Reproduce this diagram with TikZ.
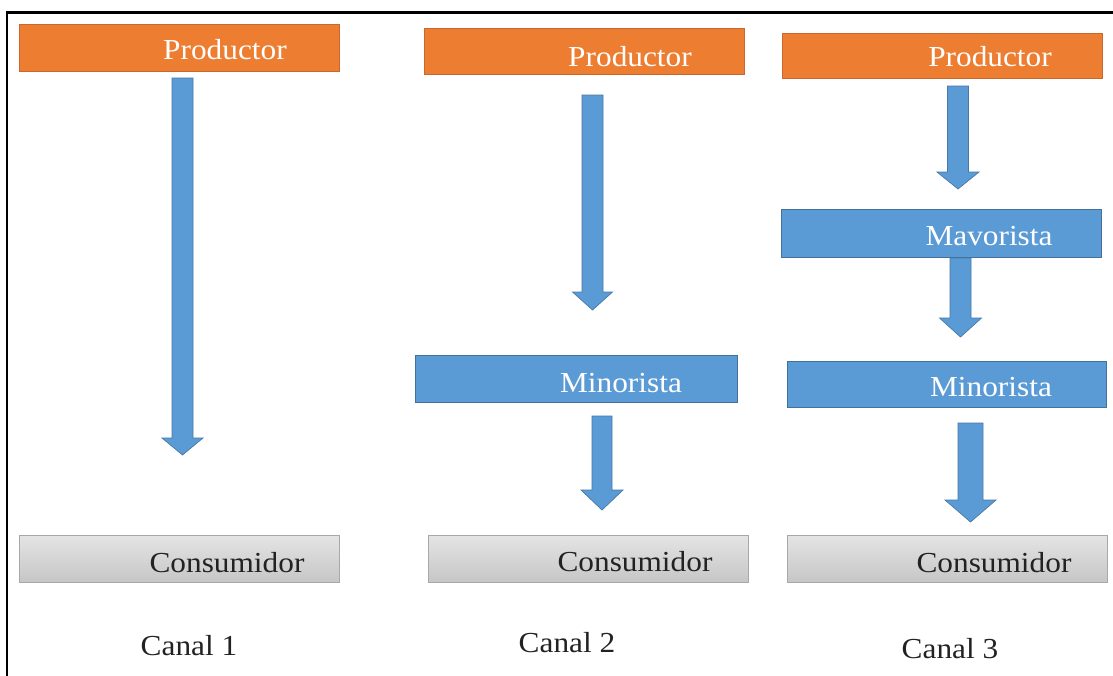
\documentclass[tikz,border=0pt]{standalone}
\usepackage{fontspec}
\newfontfamily\dfont[FakeStretch=1.08]{Liberation Serif}
\usetikzlibrary{calc}
\definecolor{orfill}{HTML}{ED7D31}
\definecolor{ordraw}{HTML}{C9682A}
\definecolor{blfill}{HTML}{5B9BD5}
\definecolor{bldraw}{HTML}{41719C}
\definecolor{grtop}{HTML}{E4E4E4}
\definecolor{grbot}{HTML}{C6C6C6}
\definecolor{grdraw}{HTML}{A8A8A8}
\definecolor{txtdark}{HTML}{222222}
\tikzset{
  boxbase/.style={draw, line width=0.8pt, inner sep=0pt},
  orbox/.style={boxbase, fill=orfill, draw=ordraw},
  blbox/.style={boxbase, fill=blfill, draw=bldraw},
  grbox/.style={boxbase, draw=grdraw, top color=grtop, bottom color=grbot},
  lbl/.style={font=\dfont\fontsize{29}{34}\selectfont, anchor=base, inner sep=0pt},
  wlbl/.style={lbl, text=white},
  dlbl/.style={lbl, text=txtdark},
  arrowst/.style={fill=blfill, draw=bldraw!80!blfill, line width=0.7pt, line join=miter}
}
\newcommand\blockarrow[5]{%
  \filldraw[arrowst] let \p1=(#1), \p2=(#2) in
    (\x1-#3pt,\y1) -- (\x1+#3pt,\y1) -- (\x1+#3pt,\y2+#5pt) -- (\x1+#4pt,\y2+#5pt)
    -- (\x1,\y2) -- (\x1-#4pt,\y2+#5pt) -- (\x1-#3pt,\y2+#5pt) -- cycle;}
\newcommand\boxat[5]{% style, name, x1, y1, x2, y2 via #3=(x1,y1) #4=(x2,y2)
  \path let \p1=#3, \p2=#4 in node[#1, minimum width=\x2-\x1, minimum height=\y1-\y2,
    anchor=north west] (#2) at (\x1,\y1) {};}
\begin{document}
\begin{tikzpicture}[x=1pt,y=-1pt]
\useasboundingbox (0,0) rectangle (1113,675);
\fill[white] (0,0) rectangle (1113,675);
\draw[line width=2.6pt] (7,676) -- (7,12.5) -- (1114,12.5);

% ---------- Canal 1
\boxat{orbox}{p1}{(19,24)}{(339,71)}{}
\node[wlbl] (tp1) at (225,59) {Productor};
\boxat{grbox}{c1}{(19,535)}{(339,582)}{}
\node[dlbl] (tc1) at (227,572) {Consumidor};
\coordinate (a1s) at (182.5,78);
\coordinate (a1e) at (182.5,455);
\blockarrow{a1s}{a1e}{10.5}{20.5}{17}
\node[dlbl] (k1) at (189,655) {Canal 1};

% ---------- Canal 2
\boxat{orbox}{p2}{(424,28)}{(744,74)}{}
\node[wlbl] (tp2) at (630,66) {Productor};
\boxat{blbox}{m2}{(415,355)}{(737,402)}{}
\node[wlbl] (tm2) at (621,392) {Minorista};
\boxat{grbox}{c2}{(428,535)}{(748,582)}{}
\node[dlbl] (tc2) at (635,571) {Consumidor};
\coordinate (a2s) at (592.5,95);
\coordinate (a2e) at (592.5,310);
\blockarrow{a2s}{a2e}{10.5}{20}{18}
\coordinate (a3s) at (602,416);
\coordinate (a3e) at (602,510);
\blockarrow{a3s}{a3e}{10}{21}{20}
\node[dlbl] (k2) at (567,652) {Canal 2};

% ---------- Canal 3
\boxat{orbox}{p3}{(782,33)}{(1102,78)}{}
\node[wlbl] (tp3) at (990,66) {Productor};
\boxat{blbox}{v3}{(781,209)}{(1101,257)}{}
\node[wlbl] (tv3) at (989,245) {Mavorista};
\boxat{blbox}{m3}{(787,361)}{(1106,407)}{}
\node[wlbl] (tm3) at (991,396) {Minorista};
\boxat{grbox}{c3}{(787,535)}{(1107,582)}{}
\node[dlbl] (tc3) at (994,572) {Consumidor};
\coordinate (a4s) at (958,86);
\coordinate (a4e) at (958,189);
\blockarrow{a4s}{a4e}{10.5}{21}{17}
\coordinate (a5s) at (960.5,258);
\coordinate (a5e) at (960.5,337);
\blockarrow{a5s}{a5e}{10.5}{21}{19}
\coordinate (a6s) at (970.5,423);
\coordinate (a6e) at (970.5,522);
\blockarrow{a6s}{a6e}{12.5}{25.5}{22}
\node[dlbl] (k3) at (950,658) {Canal 3};
\end{tikzpicture}
\end{document}
